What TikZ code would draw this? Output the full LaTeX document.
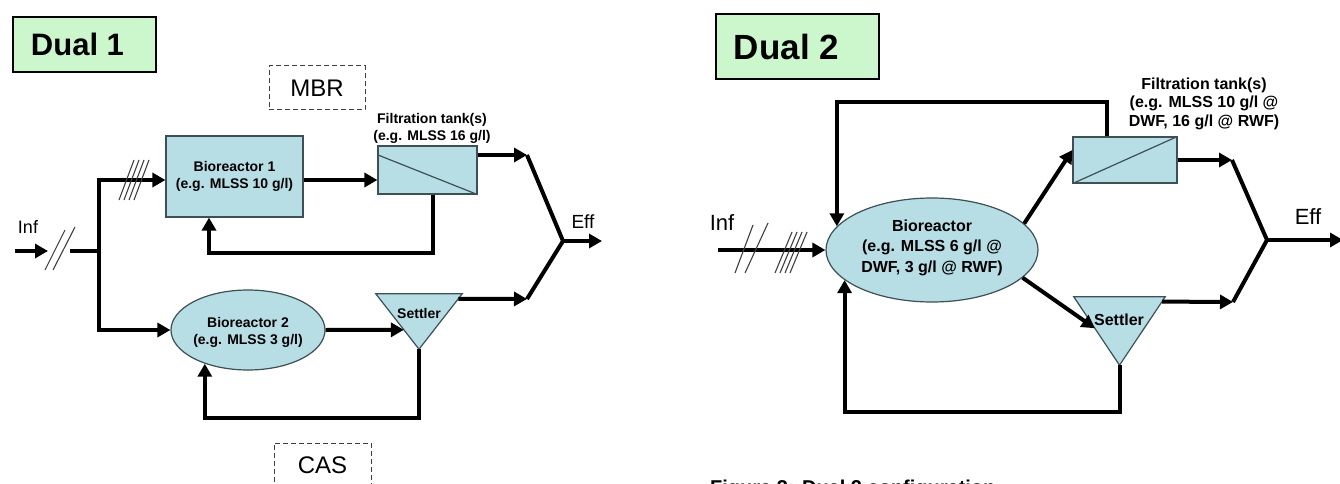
\documentclass[tikz,border=0pt]{standalone}
\usepackage{fontspec}
\setmainfont{Liberation Sans}
\usetikzlibrary{arrows.meta,calc,shapes.geometric}
\definecolor{boxfill}{RGB}{183,222,228}
\definecolor{titlefill}{RGB}{204,247,204}
\definecolor{edgec}{RGB}{60,80,85}
\begin{document}
\begin{tikzpicture}[x=1pt,y=-1pt,
  flow/.style={line width=4pt},
  arr/.style={flow,-{Triangle[length=13pt,width=14pt]}},
  unit/.style={draw=edgec,line width=1.2pt,fill=boxfill,inner sep=0pt},
  edgeline/.style={draw=edgec,line width=1.2pt},
  lbl/.style={font=\bfseries\fontsize{14}{16.5}\selectfont,align=center,inner sep=0pt},
  lblb/.style={font=\bfseries\fontsize{16}{19}\selectfont,align=center,inner sep=0pt},
  titlebox/.style={draw=black,line width=2.5pt,fill=titlefill,inner sep=0pt},
  titletext/.style={font=\bfseries,inner sep=0pt,anchor=west},
  tag/.style={draw=black!75,dash pattern=on 5pt off 3pt,line width=1pt,inner sep=0pt},
  plain/.style={inner sep=0pt},
  hatch/.style={draw=black!75,line width=1.1pt}
]
\useasboundingbox (0,0) rectangle (1340,484);
\clip (0,0) rectangle (1340,484);
\fill[white] (0,0) rectangle (1340,484);

% ===== Dual 1 =====
\node[titlebox,minimum width=143pt,minimum height=55pt] (t1) at (84.5,44.5) {};
\node[titletext,font=\bfseries\fontsize{31}{36}\selectfont] at ([xshift=19pt]t1.west) {Dual 1};

\node[tag,minimum width=96pt,minimum height=44pt,font=\fontsize{24}{28}\selectfont] (mbr) at (317,88) {MBR};
\node[tag,minimum width=97pt,minimum height=44pt,font=\fontsize{24}{28}\selectfont] (cas) at (322.5,465) {CAS};

\node[unit,rectangle,minimum width=137pt,minimum height=81pt,lbl] (bio1) at (234.5,176.5) {Bioreactor 1\\(e.g. MLSS 10 g/l)};
\node[unit,rectangle,minimum width=99pt,minimum height=48pt] (filt1) at (427.5,170) {};
\draw[edgeline] ($(filt1.north west)!0.19!(filt1.south west)$) -- (filt1.south east);
\node[lbl] (filt1lbl) at (432,128.5) {Filtration tank(s)\\(e.g. MLSS 16 g/l)};

\node[unit,ellipse,minimum width=154pt,minimum height=80pt] (bio2) at (248,330) {};
\node[lbl] (bio2lbl) at (248,332.5) {Bioreactor 2\\(e.g. MLSS 3 g/l)};

\node[inner sep=0pt,minimum width=86pt,minimum height=55pt] (set1) at (419,321.5) {};
\draw[edgeline,fill=boxfill] (set1.north west) -- (set1.north east) -- (set1.south) -- cycle;
\node[lbl] (set1lbl) at (419,313) {Settler};

\node[plain,font=\fontsize{18}{21}\selectfont] (inf1) at (28,227) {Inf};
\node[plain,font=\fontsize{19}{22}\selectfont] (eff1) at (583,222) {Eff};

\coordinate (in1) at (15,251);
\coordinate (inend1) at (48,251);
\coordinate (sp1) at (70,251);
\coordinate (jt1) at (99,180);
\coordinate (jb1) at (99,330);
\coordinate (u1) at (527,155);
\coordinate (l1) at (527,299);
\coordinate (e1) at (563,241);
\coordinate (eo1) at (602,241);
\coordinate (r1) at (209,253);

\draw[arr] (in1) -- (inend1);
\draw[hatch] (45,270) -- (65,230) (53,270) -- (75,227);
\draw[arr] (sp1) -| (jt1) -- (jt1 -| bio1.west);
\draw[arr] (sp1) -| (jb1) -- (bio2.west);
\foreach \i in {0,...,3} \draw[hatch] (119+5*\i,200) -- (134+5*\i,160);
\draw[arr] (bio1.east |- jt1) -- (filt1.west |- jt1);
\draw[arr] (filt1.east |- u1) -- (u1);
\draw[arr] ([xshift=5.5pt]filt1.south) |- (r1) -- (r1 |- bio1.south);
\draw[arr] (bio2.east) -- ($(set1.north west)!0.65!(set1.south)$);
\draw[arr] ($(set1.north east)!0.09!(set1.south)$) -- (l1);
\draw[arr] (set1.south) -- ++(0,69) -| (bio2.218);
\draw[flow] (u1) -- (e1) -- (l1);
\draw[arr] (e1) -- (eo1);

% ===== Dual 2 =====
\node[titlebox,minimum width=163pt,minimum height=65pt] (t2) at (797.5,46.5) {};
\node[titletext,font=\bfseries\fontsize{35}{40}\selectfont] at ([xshift=19pt]t2.west) {Dual 2};

\node[unit,ellipse,minimum width=212pt,minimum height=104pt] (bio3) at (932,250) {};
\node[lblb,font=\bfseries\fontsize{16}{20.5}\selectfont] (bio3lbl) at (932,247.5) {Bioreactor\\(e.g. MLSS 6 g/l @\\DWF, 3 g/l @ RWF)};

\node[unit,rectangle,minimum width=104pt,minimum height=46pt] (filt2) at (1125,160) {};
\draw[edgeline] (filt2.south west) -- (filt2.north east);
\node[lblb,font=\bfseries\fontsize{16}{18.5}\selectfont] (filt2lbl) at (1204,103.5) {Filtration tank(s)\\(e.g. MLSS 10 g/l @\\DWF, 16 g/l @ RWF)};

\node[inner sep=0pt,minimum width=91pt,minimum height=68pt] (set2) at (1119.5,331) {};
\draw[edgeline,fill=boxfill] (set2.north west) -- (set2.north east) -- (set2.south) -- cycle;
\node[lblb] (set2lbl) at (1119,320) {Settler};

\node[plain,font=\fontsize{22}{26}\selectfont] (inf2) at (722,223) {Inf};
\node[plain,font=\fontsize{22}{26}\selectfont] (eff2) at (1308,217) {Eff};

\coordinate (in2) at (718,250);
\coordinate (u2) at (1232,160);
\coordinate (l2) at (1233,302);
\coordinate (e2) at (1267,240);
\coordinate (eo2) at (1343,240);

\draw[arr] (in2) -- (bio3.west);
\draw[hatch] (735,273) -- (753,225) (745,273) -- (768,223);
\foreach \i in {0,...,3} \draw[hatch] (775+5*\i,273) -- (792+5*\i,232);
\draw[arr] (bio3.16) -- ([yshift=10pt]filt2.west);
\draw[arr] (bio3.-17.5) -- ($(set2.north west)!0.46!(set2.south)$);
\draw[arr] (filt2.east) -- (u2);
\draw[arr] ($(set2.north east)!0.07!(set2.south)$) -- (l2);
\draw[flow] (u2) -- (e2) -- (l2);
\draw[arr] (e2) -- (eo2);
\draw[arr] ([xshift=-18pt]filt2.north) -- ++(0,-34) -| (bio3.166);
\draw[arr] (set2.south) -- ++(0,47) -| (bio3.199);

\node[anchor=base west,inner sep=0pt,font=\bfseries\fontsize{20}{24}\selectfont] (cap) at (710,494) {Figure 3: Dual 2 configuration};
\end{tikzpicture}
\end{document}
